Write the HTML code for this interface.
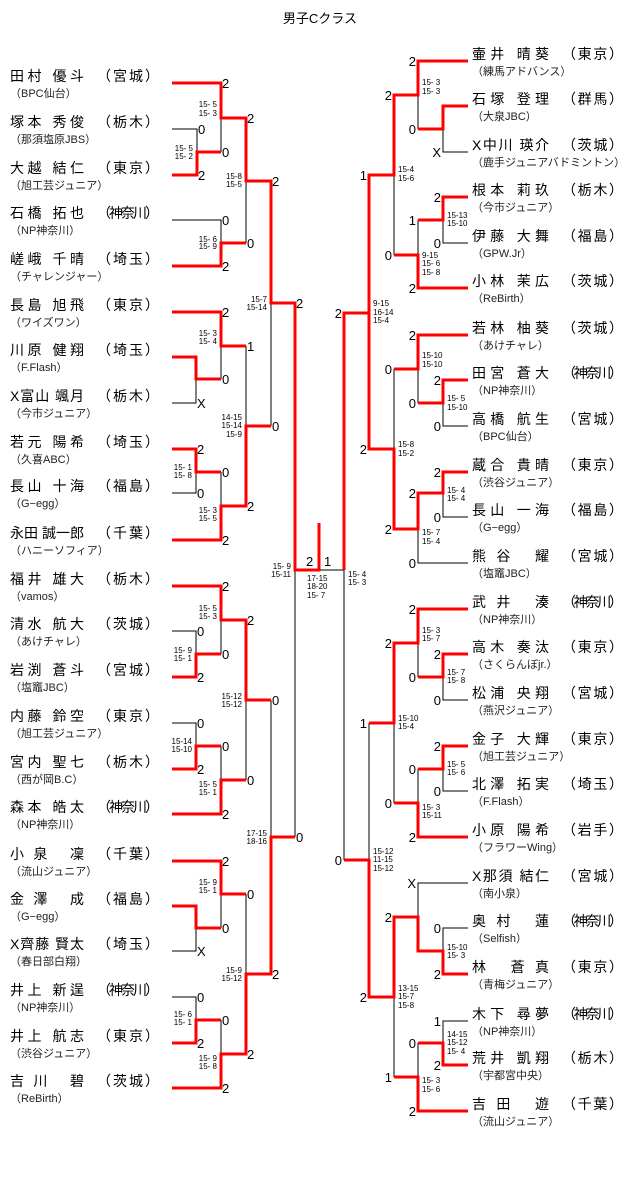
<!DOCTYPE html>
<html><head><meta charset="utf-8"><style>
html,body{margin:0;padding:0;background:#fff;}
svg{display:block;font-family:"Liberation Sans","Noto Sans CJK JP",sans-serif;}
.n{font-size:14px;fill:#000;}
.s{font-size:11px;fill:#222;}
.c{font-size:13px;fill:#000;}
.r{font-size:13px;fill:#000;text-anchor:end;}
.g{font-size:8px;fill:#000;}
.ge{font-size:8px;fill:#000;text-anchor:end;}
.t{fill:none;stroke:#000;stroke-width:1;}
.d{fill:none;stroke:#f00;stroke-width:3;}
</style></head><body>
<svg width="640" height="1201" viewBox="0 0 640 1201" xmlns="http://www.w3.org/2000/svg">
<text x="320" y="23" text-anchor="middle" style="font-size:13px">男子Cクラス</text>

<!-- LEFT NAMES -->
<g class="n">
<text x="10" y="81" textLength="74" lengthAdjust="spacing">田村 優斗</text><text x="97" y="81" textLength="62" lengthAdjust="spacing">（宮城）</text>
<text x="10" y="127" textLength="74" lengthAdjust="spacing">塚本 秀俊</text><text x="97" y="127" textLength="62" lengthAdjust="spacing">（栃木）</text>
<text x="10" y="173" textLength="74" lengthAdjust="spacing">大越 結仁</text><text x="97" y="173" textLength="62" lengthAdjust="spacing">（東京）</text>
<text x="10" y="218" textLength="74" lengthAdjust="spacing">石橋 拓也</text><text x="97" y="218" textLength="62" lengthAdjust="spacing">（神奈川）</text>
<text x="10" y="264" textLength="74" lengthAdjust="spacing">嵯峨 千晴</text><text x="97" y="264" textLength="62" lengthAdjust="spacing">（埼玉）</text>
<text x="10" y="310" textLength="74" lengthAdjust="spacing">長島 旭飛</text><text x="97" y="310" textLength="62" lengthAdjust="spacing">（東京）</text>
<text x="10" y="355" textLength="74" lengthAdjust="spacing">川原 健翔</text><text x="97" y="355" textLength="62" lengthAdjust="spacing">（埼玉）</text>
<text x="10" y="401" textLength="74" lengthAdjust="spacing">X富山 颯月</text><text x="97" y="401" textLength="62" lengthAdjust="spacing">（栃木）</text>
<text x="10" y="447" textLength="74" lengthAdjust="spacing">若元 陽希</text><text x="97" y="447" textLength="62" lengthAdjust="spacing">（埼玉）</text>
<text x="10" y="491" textLength="74" lengthAdjust="spacing">長山 十海</text><text x="97" y="491" textLength="62" lengthAdjust="spacing">（福島）</text>
<text x="10" y="538" textLength="74" lengthAdjust="spacing">永田 誠一郎</text><text x="97" y="538" textLength="62" lengthAdjust="spacing">（千葉）</text>
<text x="10" y="584" textLength="74" lengthAdjust="spacing">福井 雄大</text><text x="97" y="584" textLength="62" lengthAdjust="spacing">（栃木）</text>
<text x="10" y="629" textLength="74" lengthAdjust="spacing">清水 航大</text><text x="97" y="629" textLength="62" lengthAdjust="spacing">（茨城）</text>
<text x="10" y="675" textLength="74" lengthAdjust="spacing">岩渕 蒼斗</text><text x="97" y="675" textLength="62" lengthAdjust="spacing">（宮城）</text>
<text x="10" y="721" textLength="74" lengthAdjust="spacing">内藤 鈴空</text><text x="97" y="721" textLength="62" lengthAdjust="spacing">（東京）</text>
<text x="10" y="767" textLength="74" lengthAdjust="spacing">宮内 聖七</text><text x="97" y="767" textLength="62" lengthAdjust="spacing">（栃木）</text>
<text x="10" y="812" textLength="74" lengthAdjust="spacing">森本 皓太</text><text x="97" y="812" textLength="62" lengthAdjust="spacing">（神奈川）</text>
<text x="10" y="859" textLength="74" lengthAdjust="spacing">小泉  凜</text><text x="97" y="859" textLength="62" lengthAdjust="spacing">（千葉）</text>
<text x="10" y="904" textLength="74" lengthAdjust="spacing">金澤  成</text><text x="97" y="904" textLength="62" lengthAdjust="spacing">（福島）</text>
<text x="10" y="949" textLength="74" lengthAdjust="spacing">X齊藤 賢太</text><text x="97" y="949" textLength="62" lengthAdjust="spacing">（埼玉）</text>
<text x="10" y="995" textLength="74" lengthAdjust="spacing">井上 新逞</text><text x="97" y="995" textLength="62" lengthAdjust="spacing">（神奈川）</text>
<text x="10" y="1041" textLength="74" lengthAdjust="spacing">井上 航志</text><text x="97" y="1041" textLength="62" lengthAdjust="spacing">（東京）</text>
<text x="10" y="1086" textLength="74" lengthAdjust="spacing">吉川  碧</text><text x="97" y="1086" textLength="62" lengthAdjust="spacing">（茨城）</text>
</g>
<g class="s">
<text x="10" y="97">（BPC仙台）</text>
<text x="10" y="143">（那須塩原JBS）</text>
<text x="10" y="189">（旭工芸ジュニア）</text>
<text x="10" y="234">（NP神奈川）</text>
<text x="10" y="280">（チャレンジャー）</text>
<text x="10" y="326">（ワイズワン）</text>
<text x="10" y="371">（F.Flash）</text>
<text x="10" y="417">（今市ジュニア）</text>
<text x="10" y="463">（久喜ABC）</text>
<text x="10" y="507">（G−egg）</text>
<text x="10" y="554">（ハニーソフィア）</text>
<text x="10" y="600">（vamos）</text>
<text x="10" y="645">（あけチャレ）</text>
<text x="10" y="691">（塩竈JBC）</text>
<text x="10" y="737">（旭工芸ジュニア）</text>
<text x="10" y="783">（西が岡B.C）</text>
<text x="10" y="828">（NP神奈川）</text>
<text x="10" y="875">（流山ジュニア）</text>
<text x="10" y="920">（G−egg）</text>
<text x="10" y="965">（春日部白翔）</text>
<text x="10" y="1011">（NP神奈川）</text>
<text x="10" y="1057">（渋谷ジュニア）</text>
<text x="10" y="1102">（ReBirth）</text>
</g>

<!-- RIGHT NAMES -->
<g class="n">
<text x="472" y="59" textLength="77" lengthAdjust="spacing">壷井 晴葵</text><text x="562" y="59" textLength="61" lengthAdjust="spacing">（東京）</text>
<text x="472" y="104" textLength="77" lengthAdjust="spacing">石塚 登理</text><text x="562" y="104" textLength="61" lengthAdjust="spacing">（群馬）</text>
<text x="472" y="150" textLength="77" lengthAdjust="spacing">X中川 瑛介</text><text x="562" y="150" textLength="61" lengthAdjust="spacing">（茨城）</text>
<text x="472" y="195" textLength="77" lengthAdjust="spacing">根本 莉玖</text><text x="562" y="195" textLength="61" lengthAdjust="spacing">（栃木）</text>
<text x="472" y="241" textLength="77" lengthAdjust="spacing">伊藤 大舞</text><text x="562" y="241" textLength="61" lengthAdjust="spacing">（福島）</text>
<text x="472" y="286" textLength="77" lengthAdjust="spacing">小林 茉広</text><text x="562" y="286" textLength="61" lengthAdjust="spacing">（茨城）</text>
<text x="472" y="333" textLength="77" lengthAdjust="spacing">若林 柚葵</text><text x="562" y="333" textLength="61" lengthAdjust="spacing">（茨城）</text>
<text x="472" y="378" textLength="77" lengthAdjust="spacing">田宮 蒼大</text><text x="562" y="378" textLength="61" lengthAdjust="spacing">（神奈川）</text>
<text x="472" y="424" textLength="77" lengthAdjust="spacing">高橋 航生</text><text x="562" y="424" textLength="61" lengthAdjust="spacing">（宮城）</text>
<text x="472" y="470" textLength="77" lengthAdjust="spacing">蔵合 貴晴</text><text x="562" y="470" textLength="61" lengthAdjust="spacing">（東京）</text>
<text x="472" y="515" textLength="77" lengthAdjust="spacing">長山 一海</text><text x="562" y="515" textLength="61" lengthAdjust="spacing">（福島）</text>
<text x="472" y="561" textLength="77" lengthAdjust="spacing">熊谷  耀</text><text x="562" y="561" textLength="61" lengthAdjust="spacing">（宮城）</text>
<text x="472" y="607" textLength="77" lengthAdjust="spacing">武井  湊</text><text x="562" y="607" textLength="61" lengthAdjust="spacing">（神奈川）</text>
<text x="472" y="652" textLength="77" lengthAdjust="spacing">高木 奏汰</text><text x="562" y="652" textLength="61" lengthAdjust="spacing">（東京）</text>
<text x="472" y="698" textLength="77" lengthAdjust="spacing">松浦 央翔</text><text x="562" y="698" textLength="61" lengthAdjust="spacing">（宮城）</text>
<text x="472" y="744" textLength="77" lengthAdjust="spacing">金子 大輝</text><text x="562" y="744" textLength="61" lengthAdjust="spacing">（東京）</text>
<text x="472" y="789" textLength="77" lengthAdjust="spacing">北澤 拓実</text><text x="562" y="789" textLength="61" lengthAdjust="spacing">（埼玉）</text>
<text x="472" y="835" textLength="77" lengthAdjust="spacing">小原 陽希</text><text x="562" y="835" textLength="61" lengthAdjust="spacing">（岩手）</text>
<text x="472" y="881" textLength="77" lengthAdjust="spacing">X那須 結仁</text><text x="562" y="881" textLength="61" lengthAdjust="spacing">（宮城）</text>
<text x="472" y="926" textLength="77" lengthAdjust="spacing">奥村  蓮</text><text x="562" y="926" textLength="61" lengthAdjust="spacing">（神奈川）</text>
<text x="472" y="972" textLength="77" lengthAdjust="spacing">林  蒼真</text><text x="562" y="972" textLength="61" lengthAdjust="spacing">（東京）</text>
<text x="472" y="1019" textLength="77" lengthAdjust="spacing">木下 尋夢</text><text x="562" y="1019" textLength="61" lengthAdjust="spacing">（神奈川）</text>
<text x="472" y="1063" textLength="77" lengthAdjust="spacing">荒井 凱翔</text><text x="562" y="1063" textLength="61" lengthAdjust="spacing">（栃木）</text>
<text x="472" y="1109" textLength="77" lengthAdjust="spacing">吉田  遊</text><text x="562" y="1109" textLength="61" lengthAdjust="spacing">（千葉）</text>
</g>
<g class="s">
<text x="472" y="75">（練馬アドバンス）</text>
<text x="472" y="120">（大泉JBC）</text>
<text x="472" y="166">（鹿手ジュニアバドミントン）</text>
<text x="472" y="211">（今市ジュニア）</text>
<text x="472" y="257">（GPW.Jr）</text>
<text x="472" y="302">（ReBirth）</text>
<text x="472" y="349">（あけチャレ）</text>
<text x="472" y="394">（NP神奈川）</text>
<text x="472" y="440">（BPC仙台）</text>
<text x="472" y="486">（渋谷ジュニア）</text>
<text x="472" y="531">（G−egg）</text>
<text x="472" y="577">（塩竈JBC）</text>
<text x="472" y="623">（NP神奈川）</text>
<text x="472" y="668">（さくらんぼjr.）</text>
<text x="472" y="714">（燕沢ジュニア）</text>
<text x="472" y="760">（旭工芸ジュニア）</text>
<text x="472" y="805">（F.Flash）</text>
<text x="472" y="851">（フラワーWing）</text>
<text x="472" y="897">（南小泉）</text>
<text x="472" y="942">（Selfish）</text>
<text x="472" y="988">（青梅ジュニア）</text>
<text x="472" y="1035">（NP神奈川）</text>
<text x="472" y="1079">（宇都宮中央）</text>
<text x="472" y="1125">（流山ジュニア）</text>
</g>

<!-- THIN LINES -->
<path class="t" d="
M172 129H197V152 M172 220H221V243 M221 118V152 M246 181V243
M172 403H196V379 M172 493H196V472 M221 346V379 M221 472V506 M246 346V426 M271 303V426
M172 631H196V654 M221 620V654 M172 723H196V746 M221 746V780 M246 700V780
M172 951H196V928 M221 894V928 M172 997H196V1020 M221 1020V1054 M246 894V974 M271 700V837
M295 570V837 M319 570H344 M344 570V860
M468 152H443V129 M418 95V129 M468 243H443V220 M418 220V255 M394 175V255 M369 175V313
M468 426H443V403 M418 369V403 M468 517H443V493 M468 563H418V529 M394 369V449
M468 700H443V677 M418 643V677 M468 791H443V769 M418 769V803 M394 723V803 M369 723V860
M468 883H418V917 M468 928H443V951 M468 1021H443V1043 M418 1043V1077 M394 997V1077"/>

<!-- RED LINES -->
<path class="d" d="
M172 83H221V118H246V181H271V303H295V570H319V523
M172 175H197V152H221
M172 266H221V243H246
M172 312H221V346H246
M172 357H196V379H221
M172 449H196V472H221
M172 540H221V506H246V426H271
M172 586H221V620H246V700H271
M172 677H196V654H221
M172 769H196V746H221
M172 814H221V780H246
M172 861H221V894H246
M172 906H196V928H221
M172 1043H196V1020H221
M172 1088H221V1054H246V974H271V837H295
M468 61H418V95H394V175H369V313H344V570
M468 106H443V129H418
M468 197H443V220H418
M468 288H418V255H394
M468 335H418V369H394
M468 380H443V403H418
M468 472H443V493H418V529H394V449H369V313
M468 609H418V643H394V723H369
M468 654H443V677H418
M468 746H443V769H418
M468 837H418V803H394
M344 860H369V997H394V917H418V951H443V974H468
M468 1065H443V1043H418
M468 1111H418V1077H394"/>

<!-- LEFT SCORES -->
<g class="c">
<text x="222" y="88">2</text><text x="198" y="134">0</text><text x="198" y="180">2</text><text x="222" y="157">0</text><text x="247" y="123">2</text>
<text x="222" y="225">0</text><text x="222" y="271">2</text><text x="247" y="248">0</text><text x="272" y="186">2</text>
<text x="222" y="317">2</text><text x="247" y="351">1</text><text x="222" y="384">0</text><text x="197" y="408">X</text>
<text x="197" y="454">2</text><text x="197" y="498">0</text><text x="222" y="477">0</text><text x="222" y="545">2</text><text x="247" y="511">2</text>
<text x="272" y="431">0</text><text x="296" y="308">2</text>
<text x="222" y="591">2</text><text x="197" y="636">0</text><text x="197" y="682">2</text><text x="222" y="659">0</text><text x="247" y="625">2</text>
<text x="197" y="728">0</text><text x="197" y="774">2</text><text x="222" y="751">0</text><text x="222" y="819">2</text><text x="247" y="785">0</text><text x="272" y="705">0</text>
<text x="222" y="866">2</text><text x="222" y="933">0</text><text x="197" y="956">X</text><text x="247" y="899">0</text>
<text x="197" y="1002">0</text><text x="197" y="1048">2</text><text x="222" y="1025">0</text><text x="222" y="1093">2</text><text x="247" y="1059">2</text><text x="272" y="979">2</text><text x="296" y="842">0</text>
<text x="306" y="566">2</text><text x="324" y="566">1</text>
</g>
<!-- RIGHT SCORES -->
<g class="r">
<text x="416" y="66">2</text><text x="416" y="134">0</text><text x="441" y="157">X</text><text x="392" y="100">2</text>
<text x="441" y="202">2</text><text x="416" y="225">1</text><text x="441" y="248">0</text><text x="416" y="293">2</text><text x="392" y="260">0</text><text x="367" y="180">1</text>
<text x="342" y="318">2</text><text x="416" y="340">2</text><text x="392" y="374">0</text><text x="441" y="385">2</text><text x="416" y="408">0</text><text x="441" y="431">0</text>
<text x="367" y="454">2</text><text x="441" y="477">2</text><text x="416" y="498">2</text><text x="441" y="522">0</text><text x="392" y="534">2</text><text x="416" y="568">0</text>
<text x="416" y="614">2</text><text x="392" y="648">2</text><text x="441" y="659">2</text><text x="416" y="682">0</text><text x="441" y="705">0</text><text x="367" y="728">1</text>
<text x="441" y="751">2</text><text x="416" y="774">0</text><text x="441" y="796">0</text><text x="392" y="808">0</text><text x="416" y="842">2</text><text x="342" y="865">0</text>
<text x="416" y="888">X</text><text x="392" y="922">2</text><text x="441" y="933">0</text><text x="441" y="979">2</text><text x="367" y="1002">2</text>
<text x="441" y="1026">1</text><text x="416" y="1048">0</text><text x="441" y="1070">2</text><text x="392" y="1082">1</text><text x="416" y="1116">2</text>
</g>

<!-- LEFT GAME SCORES -->
<g class="ge">
<text x="217" y="107">15- 5</text><text x="217" y="116">15- 3</text>
<text x="193" y="151">15- 5</text><text x="193" y="159">15- 2</text>
<text x="242" y="179">15-8</text><text x="242" y="187">15-5</text>
<text x="217" y="242">15- 6</text><text x="217" y="249">15- 9</text>
<text x="267" y="302">15-7</text><text x="267" y="310">15-14</text>
<text x="217" y="336">15- 3</text><text x="217" y="344">15- 4</text>
<text x="242" y="420">14-15</text><text x="242" y="428">15-14</text><text x="242" y="437">15-9</text>
<text x="192" y="470">15- 1</text><text x="192" y="478">15- 8</text>
<text x="217" y="513">15- 3</text><text x="217" y="521">15- 5</text>
<text x="291" y="569">15- 9</text><text x="291" y="577">15-11</text>
<text x="217" y="611">15- 5</text><text x="217" y="619">15- 3</text>
<text x="192" y="653">15- 9</text><text x="192" y="661">15- 1</text>
<text x="242" y="699">15-12</text><text x="242" y="707">15-12</text>
<text x="192" y="744">15-14</text><text x="192" y="752">15-10</text>
<text x="217" y="787">15- 5</text><text x="217" y="795">15- 1</text>
<text x="267" y="836">17-15</text><text x="267" y="844">18-16</text>
<text x="217" y="885">15- 9</text><text x="217" y="893">15- 1</text>
<text x="242" y="973">15-9</text><text x="242" y="981">15-12</text>
<text x="192" y="1017">15- 6</text><text x="192" y="1025">15- 1</text>
<text x="217" y="1061">15- 9</text><text x="217" y="1069">15- 8</text>
</g>
<g class="g">
<text x="307" y="581">17-15</text><text x="307" y="589">18-20</text><text x="307" y="598">15- 7</text>
<text x="348" y="577">15- 4</text><text x="348" y="585">15- 3</text>
<text x="422" y="85">15- 3</text><text x="422" y="94">15- 3</text>
<text x="398" y="172">15-4</text><text x="398" y="181">15-6</text>
<text x="447" y="218">15-13</text><text x="447" y="226">15-10</text>
<text x="422" y="258">9-15</text><text x="422" y="266">15- 6</text><text x="422" y="275">15- 8</text>
<text x="373" y="306">9-15</text><text x="373" y="315">16-14</text><text x="373" y="323">15-4</text>
<text x="422" y="358">15-10</text><text x="422" y="367">15-10</text>
<text x="447" y="401">15- 5</text><text x="447" y="410">15-10</text>
<text x="398" y="447">15-8</text><text x="398" y="456">15-2</text>
<text x="447" y="493">15- 4</text><text x="447" y="501">15- 4</text>
<text x="422" y="535">15- 7</text><text x="422" y="544">15- 4</text>
<text x="422" y="633">15- 3</text><text x="422" y="641">15- 7</text>
<text x="447" y="675">15- 7</text><text x="447" y="683">15- 8</text>
<text x="398" y="721">15-10</text><text x="398" y="729">15-4</text>
<text x="447" y="767">15- 5</text><text x="447" y="775">15- 6</text>
<text x="422" y="810">15- 3</text><text x="422" y="818">15-11</text>
<text x="373" y="854">15-12</text><text x="373" y="862">11-15</text><text x="373" y="871">15-12</text>
<text x="447" y="950">15-10</text><text x="447" y="958">15- 3</text>
<text x="398" y="991">13-15</text><text x="398" y="999">15-7</text><text x="398" y="1008">15-8</text>
<text x="447" y="1037">14-15</text><text x="447" y="1045">15-12</text><text x="447" y="1054">15- 4</text>
<text x="422" y="1083">15- 3</text><text x="422" y="1092">15- 6</text>
</g>
</svg>
</body></html>
